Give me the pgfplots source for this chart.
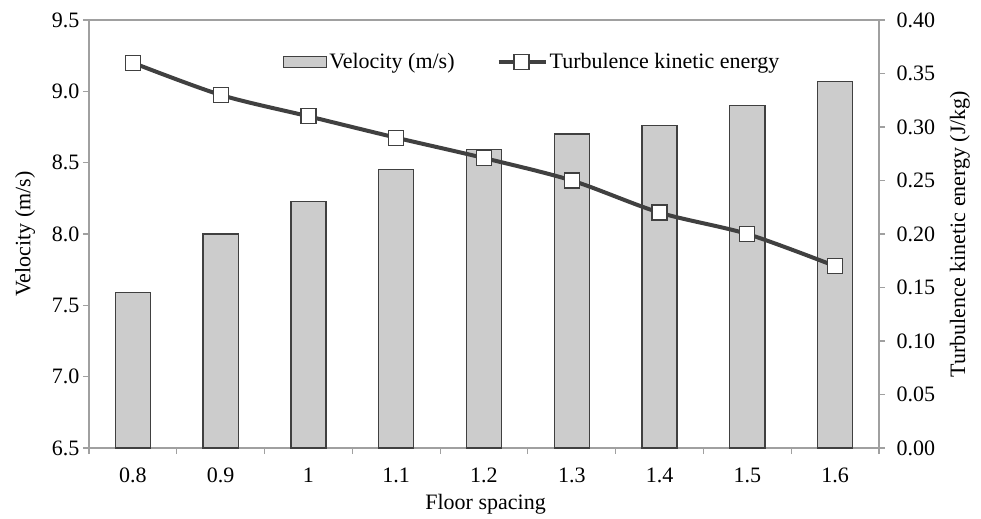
\documentclass[border=0pt]{standalone}
\usepackage{pgfplots}
\pgfplotsset{compat=1.18}
\usepackage{fontspec}
\setmainfont{Liberation Serif}
\definecolor{barfill}{RGB}{204,204,204}
\definecolor{bardraw}{RGB}{64,64,64}
\definecolor{linec}{RGB}{64,64,64}
\definecolor{axc}{RGB}{160,160,160}
\pgfplotsset{tkelegend/.style={legend image code/.code={\draw[mark repeat=2, mark phase=2, ##1] plot coordinates {(0bp,0bp) (23bp,0bp) (47bp,0bp)};}}}
\begin{document}
\begin{tikzpicture}[font=\fontsize{22bp}{26bp}\selectfont]
\path (-89bp,-71bp) rectangle (892bp,448bp);
\begin{axis}[
  at={(0,0)}, anchor=south west, scale only axis, width=790bp, height=428bp,
  xmin=-0.5, xmax=8.5, ymin=6.5, ymax=9.5,
  xtick={-0.5,0.5,1.5,2.5,3.5,4.5,5.5,6.5,7.5,8.5},
  x tick label as interval,
  xticklabels={0.8,0.9,1,1.1,1.2,1.3,1.4,1.5,1.6},
  ytick={6.5,7,7.5,8,8.5,9,9.5},
  xtick pos=bottom, ytick pos=left,
  tick align=outside, major tick length=6bp,
  axis line style={axc, line width=1.2bp},
  tick style={axc, line width=1.2bp},
  /pgf/number format/assume math mode=true,
  yticklabel style={/pgf/number format/.cd, fixed, fixed zerofill, precision=1},
  ylabel={Velocity (m/s)}, xlabel={Floor spacing},
  ylabel style={at={(axis description cs:-0.081,0.5)}, anchor=center},
  xlabel style={at={(axis description cs:0.502,-0.1324)}, anchor=center},
  xticklabel style={yshift=-10bp},
]
\addplot[ybar, bar width=0.4, fill=barfill, draw=bardraw, line width=1.3bp]
  coordinates {(0,7.59) (1,8.00) (2,8.23) (3,8.45) (4,8.59) (5,8.70) (6,8.76) (7,8.90) (8,9.07)};
\end{axis}
\begin{axis}[
  at={(0,0)}, anchor=south west, scale only axis, width=790bp, height=428bp,
  xmin=-0.5, xmax=8.5, ymin=0, ymax=0.4,
  axis y line*=right, axis x line*=top, xtick=\empty,
  ytick={0,0.05,0.10,0.15,0.20,0.25,0.30,0.35,0.40},
  tick align=outside, major tick length=6bp,
  axis line style={axc, line width=1.2bp},
  x axis line style={axc, line width=1.8bp},
  tick style={axc, line width=1.2bp},
  /pgf/number format/assume math mode=true,
  yticklabel style={xshift=8bp, /pgf/number format/.cd, fixed, fixed zerofill, precision=2},
  ylabel={Turbulence kinetic energy (J/kg)},
  ylabel style={at={(axis description cs:1.1025,0.5)}, anchor=center},
  legend style={at={(0.561,0.902)}, anchor=center, draw=none, fill=none,
    legend columns=2, font=\fontsize{22bp}{26bp}\selectfont,
    /tikz/every even column/.append style={column sep=40bp}},
]
\addlegendimage{legend image code/.code={\draw[fill=barfill, draw=bardraw, line width=1.3bp] (0bp,-5.5bp) rectangle (43bp,5.5bp);}}
\addlegendentry{Velocity (m/s)}
\addplot[smooth, linec, line width=4bp, mark=square*,
  mark options={fill=white, draw=bardraw, line width=1.3bp, solid}, mark size=7.5bp, tkelegend]
  coordinates {(0,0.360) (1,0.330) (2,0.310) (3,0.290) (4,0.271) (5,0.250) (6,0.220) (7,0.200) (8,0.170)};
\addlegendentry{Turbulence kinetic energy}
\end{axis}
\end{tikzpicture}
\end{document}
